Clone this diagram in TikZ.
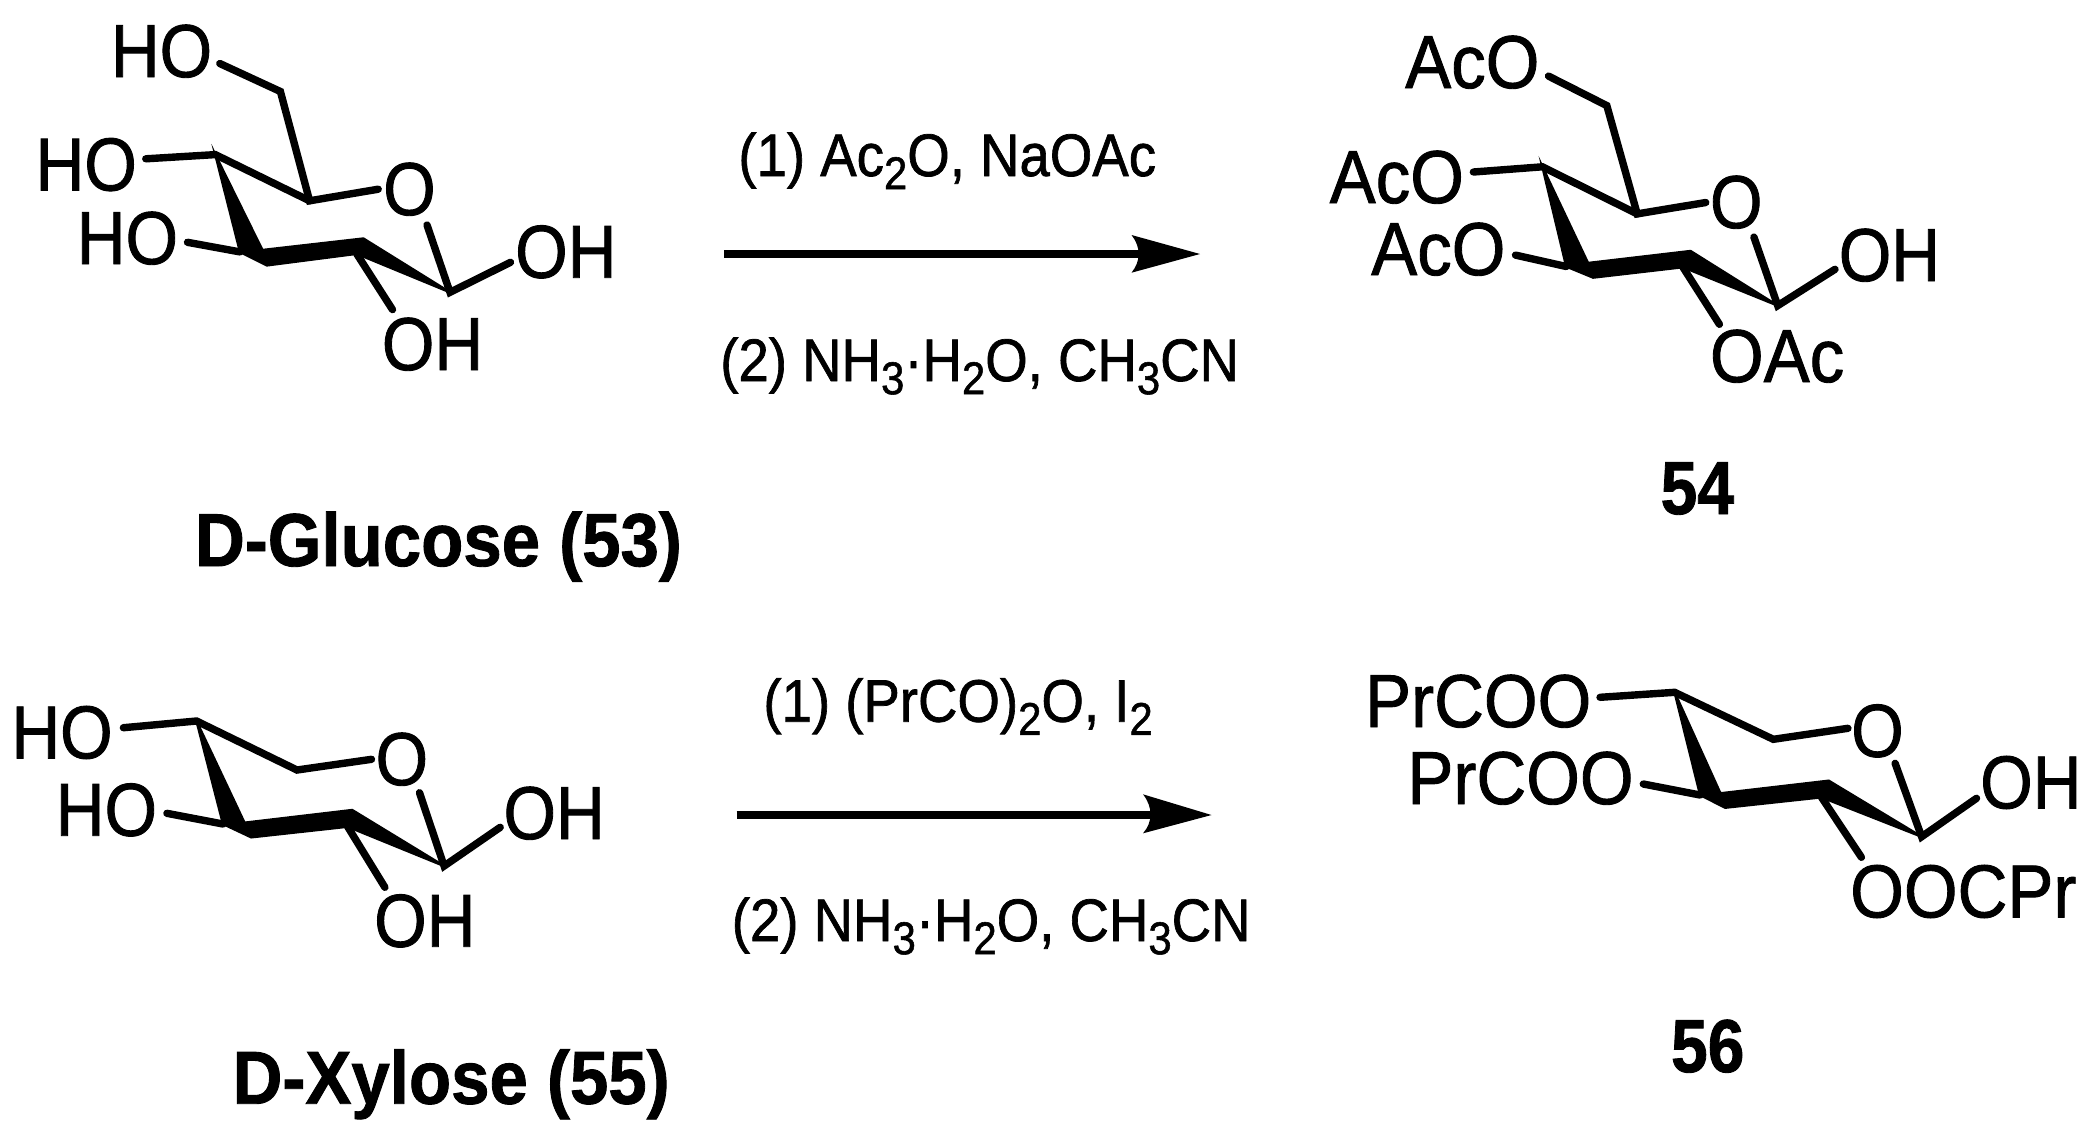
\documentclass[tikz,border=0pt]{standalone}
\usepackage{fontspec}
\setmainfont[RawFeature={embolden=1.2}]{Liberation Sans}
\newcommand{\molfont}{\fontsize{37.5}{40}\selectfont}
\newcommand{\reagfont}{\fontsize{30}{34}\selectfont}
\newcommand{\lowr}[1]{\raisebox{-0.22em}{\fontsize{23}{23}\selectfont #1}}
\newcommand{\sq}[1]{\scalebox{0.90}[1]{#1}}
\newcommand{\sqw}[1]{\scalebox{0.92}[1]{#1}}
\newcommand{\sqr}[1]{\scalebox{0.91}[1]{#1}}
\newcommand{\sqb}[1]{\scalebox{0.92}[1]{#1}}
\newcommand{\sqn}[1]{\scalebox{0.88}[1]{#1}}
\tikzset{
  x=0.5pt,y=-0.5pt,
  bond/.style={line width=3.7pt,line cap=round,line join=miter,black},
  wedge/.style={fill=black,draw=black,line width=1.2pt,line join=miter},
  atom/.style={anchor=base west,inner sep=0pt,outer sep=0pt,font=\molfont,xshift=-2.4pt},
  cname/.style={anchor=base west,inner sep=0pt,outer sep=0pt,font=\molfont\bfseries,xshift=-1pt,yshift=1.5pt},
  reag/.style={anchor=base west,inner sep=0pt,outer sep=0pt,font=\reagfont,xshift=-1pt},
  shaft/.style={line width=3.6pt,black},
  head/.style={fill=black,draw=none}
}
\begin{document}
\begin{tikzpicture}
\useasboundingbox (0,0) rectangle (2091,1142);
% ---------- D-Glucose
\foreach \n/\x/\y in {gA/280.4/91.5,gB/219.8/63.5,gC/309.6/200.8,gD/378.2/189.2,gE/215.3/154.6,gF/145.8/158.8,
  gG/262.4/250,gH/363.4/238.5,gI/450/292.3,gJ/356.7/253.8,gK/266.9/265.4,gL/240/251.9,gM/427/225,gN/510.5/262.3,gO/392.5/309.6,gP/187.5/242.3}
  {\coordinate (\n) at (\x,\y);}
\draw[bond] (gB)--(gA)--(gC)--(gD);
\draw[bond] (gF)--(gE)--(gC);
\draw[bond] (gM)--(gI)--(gN);
\draw[bond] (gJ)--(gO);
\draw[bond] (gP)--(gL);
\fill[wedge] (gE)--(gG)--(gH)--(gI)--(gJ)--(gK)--(gL)--cycle;
\node[atom] (g1) at (115.7,77) {\sq{HO}};
\node[atom] (g2) at (40.4,190.4) {\sq{HO}};
\node[atom] (g3) at (81.6,264) {\sq{HO}};
\node[atom] (g4) at (388,215) {\sq{O}};
\node[atom] (g5) at (520,277.7) {\sq{OH}};
\node[atom] (g6) at (386.7,370) {\sq{OH}};
\node[cname] (gn) at (197,569) {\sqb{D-Glucose (53)}};
% ---------- 54
\foreach \n/\x/\y in {aA/1606.8/105.6,aB/1548.5/76.1,aC/1637.2/213.9,aD/1705.7/202.5,aE/1542.4/166.8,aF/1473.4/172,
  aG/1588/263,aH/1690.5/251,aI/1777.7/305.6,aJ/1682.9/267.2,aK/1593.1/277.6,aL/1566.2/266.5,aM/1753.9/237.1,aN/1835/269.3,aO/1719.4/324.3,aP/1515.5/255.1}
  {\coordinate (\n) at (\x,\y);}
\draw[bond] (aB)--(aA)--(aC)--(aD);
\draw[bond] (aF)--(aE)--(aC);
\draw[bond] (aM)--(aI)--(aN);
\draw[bond] (aJ)--(aO);
\draw[bond] (aP)--(aL);
\fill[wedge] (aE)--(aG)--(aH)--(aI)--(aJ)--(aK)--(aL)--cycle;
\node[atom] (a1) at (1410,88) {\sqw{AcO}};
\node[atom] (a2) at (1334.5,203) {\sqw{AcO}};
\node[atom] (a3) at (1376,275) {\sqw{AcO}};
\node[atom] (a4) at (1714.8,228) {\sq{O}};
\node[atom] (a5) at (1843.6,281) {\sq{OH}};
\node[atom] (a6) at (1714.8,382) {\sqw{OAc}};
\node[cname] (an) at (1662.6,517) {\sqn{54}};
% ---------- D-Xylose
\foreach \n/\x/\y in {xC/297/770,xD/371.5/759.3,xE/196.5/721,xF/123.4/727.7,
  xG/244.5/822.7,xH/352.2/810,xI/444.1/866,xJ/347.7/826.7,xK/251.2/837.3,xL/223/824,xM/419.5/792.7,xN/500.2/827.3,xO/384.9/887.3,xP/166.9/813.3}
  {\coordinate (\n) at (\x,\y);}
\draw[bond] (xF)--(xE)--(xC)--(xD);
\draw[bond] (xM)--(xI)--(xN);
\draw[bond] (xJ)--(xO);
\draw[bond] (xP)--(xL);
\fill[wedge] (xE)--(xG)--(xH)--(xI)--(xJ)--(xK)--(xL)--cycle;
\node[atom] (x1) at (16.2,758.3) {\sq{HO}};
\node[atom] (x2) at (60.6,835.7) {\sq{HO}};
\node[atom] (x3) at (380.4,785) {\sq{O}};
\node[atom] (x4) at (508.3,839) {\sq{OH}};
\node[atom] (x5) at (379,946.7) {\sq{OH}};
\node[cname] (xn) at (234.6,1106.7) {\sqb{D-Xylose (55)}};
% ---------- 56
\foreach \n/\x/\y in {bC/1773.3/739.3,bD/1847.9/728.3,bE/1674.6/692.3,bF/1600/697.3,
  bG/1720.4/793.3,bH/1828.7/780.7,bI/1921.6/836.7,bJ/1821.5/797.3,bK/1725.2/807.7,bL/1700.1/795,bM/1895.1/763.3,bN/1976.5/798.3,bO/1861.4/857.3,bP/1643.3/784}
  {\coordinate (\n) at (\x,\y);}
\draw[bond] (bF)--(bE)--(bC)--(bD);
\draw[bond] (bM)--(bI)--(bN);
\draw[bond] (bJ)--(bO);
\draw[bond] (bP)--(bL);
\fill[wedge] (bE)--(bG)--(bH)--(bI)--(bJ)--(bK)--(bL)--cycle;
\node[atom] (b1) at (1369.9,727) {\sqw{PrCOO}};
\node[atom] (b2) at (1412.2,804) {\sqw{PrCOO}};
\node[atom] (b3) at (1856,756.7) {\sq{O}};
\node[atom] (b4) at (1985,808.3) {\sq{OH}};
\node[atom] (b5) at (1855,917.3) {\sqw{OOCPr}};
\node[cname] (bn) at (1673,1075) {\sqn{56}};
% ---------- arrow 1
\coordinate (p1) at (724.2,254);
\coordinate (p2) at (1145,254);
\coordinate (t1) at (1200,254);
\coordinate (u1) at (1131.5,235);
\coordinate (v1) at (1131.5,272.7);
\draw[shaft] (p1)--(p2);
\fill[head] (t1)--(u1)..controls (1141,247) and (1141,261) ..(v1)--cycle;
\node[reag] (r1) at (740.4,176) {\sqr{(1) Ac\lowr{2}O, NaOAc}};
\node[reag] (r2) at (722.3,381) {\sqr{(2) NH\lowr{3}·H\lowr{2}O, CH\lowr{3}CN}};
% ---------- arrow 2
\coordinate (p3) at (736.5,815);
\coordinate (p4) at (1155,815);
\coordinate (t2) at (1211.5,815);
\coordinate (u2) at (1143,794.3);
\coordinate (v2) at (1143,833.3);
\draw[shaft] (p3)--(p4);
\fill[head] (t2)--(u2)..controls (1153,807) and (1153,822) ..(v2)--cycle;
\node[reag] (r3) at (765.4,721.7) {\sqr{(1) (PrCO)\lowr{2}O, I\lowr{2}}};
\node[reag] (r4) at (733.8,941) {\sqr{(2) NH\lowr{3}·H\lowr{2}O, CH\lowr{3}CN}};
\end{tikzpicture}
\end{document}
